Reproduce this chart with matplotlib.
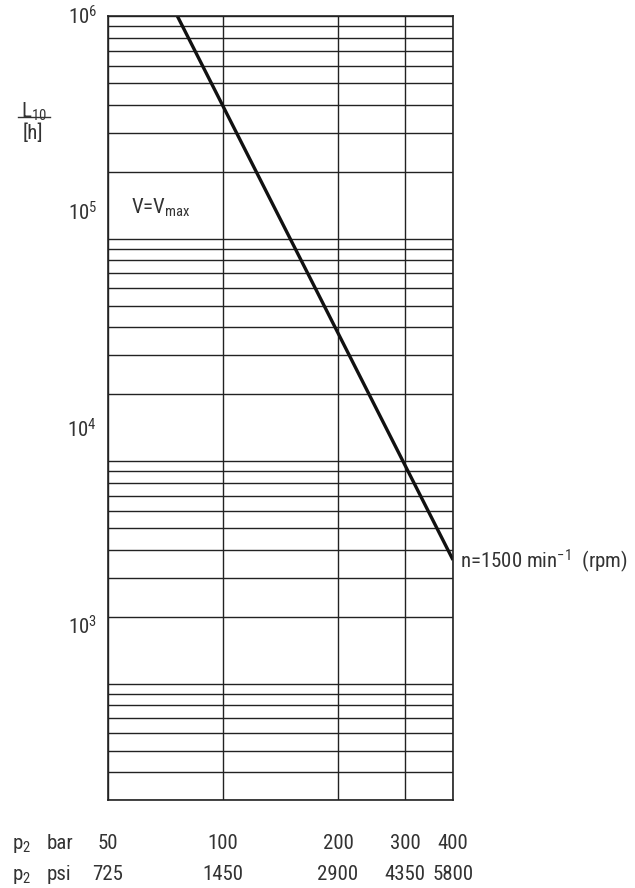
import matplotlib
matplotlib.use("Agg")
import matplotlib.pyplot as plt
from matplotlib import font_manager
from matplotlib.ticker import FixedLocator, NullLocator, LogLocator, NullFormatter
from matplotlib.transforms import blended_transform_factory
from matplotlib.lines import Line2D

# pressure axis (bar) and its psi equivalents
bar_ticks = [50, 100, 200, 300, 400]
psi_ticks = [725, 1450, 2900, 4350, 5800]

# bearing life line at n = 1500 rpm, read at its two ends
p_bar = [76, 400]
life_h = [1.0e6, 3.6e3]

# pick a narrow font if one is there
fam = "DejaVu Sans"
for cand in ["Liberation Sans Narrow", "Roboto Condensed", "Liberation Sans"]:
    try:
        font_manager.findfont(cand, fallback_to_default=False)
        fam = cand
        break
    except Exception:
        pass

plt.rcParams['font.family'] = [fam, 'DejaVu Sans']
plt.rcParams['mathtext.fontset'] = 'custom'
plt.rcParams['mathtext.rm'] = fam
plt.rcParams['mathtext.it'] = fam
plt.rcParams['mathtext.bf'] = fam

W, H = 635, 888
txt_col = '#333333'
grid_col = '#222222'
fs = 15


def px(x, y):
    return x / W, 1 - y / H


fig = plt.figure(figsize=(W / 100, H / 100), dpi=100)
ax = fig.add_axes([108 / W, 88 / H, 345 / W, (800 - 16.3) / H])
ax.set_xscale('log')
ax.set_yscale('log')
ax.set_xlim(bar_ticks[0], bar_ticks[-1])
ax.set_ylim(300, 1e6)

ax.xaxis.set_major_locator(FixedLocator(bar_ticks))
ax.xaxis.set_minor_locator(NullLocator())
ax.xaxis.set_major_formatter(NullFormatter())
ax.yaxis.set_major_locator(LogLocator(base=10))
ax.yaxis.set_minor_locator(LogLocator(base=10, subs=[2, 3, 4, 5, 6, 7, 8, 9]))
ax.yaxis.set_major_formatter(NullFormatter())
ax.yaxis.set_minor_formatter(NullFormatter())
ax.tick_params(which='both', length=0)
ax.grid(True, axis='y', which='both', color=grid_col, lw=1.0)
ax.grid(True, axis='x', which='major', color=grid_col, lw=1.0)
for s in ax.spines.values():
    s.set_color(grid_col)
    s.set_linewidth(1.2)

ax.plot(p_bar, life_h, color='#111111', lw=2.4, solid_capstyle='butt')

# x labels: two rows under the axis
tr = blended_transform_factory(ax.transData, fig.transFigure)
for b, p in zip(bar_ticks, psi_ticks):
    ax.text(b, 1 - 849 / H, str(b), transform=tr, ha='center', va='baseline',
            fontsize=fs, color=txt_col)
    ax.text(b, 1 - 880 / H, str(p), transform=tr, ha='center', va='baseline',
            fontsize=fs, color=txt_col)
for yb, unit in [(849, 'bar'), (880, 'psi')]:
    fig.text(*px(12, yb), r'p$_{\mathregular{2}}$', ha='left', va='baseline',
             fontsize=fs, color=txt_col)
    fig.text(*px(47, yb), unit, ha='left', va='baseline', fontsize=fs,
             color=txt_col)

# decade labels (placed as on the original sheet)
for ypx, e in [(17, 6), (213, 5), (430, 4), (627, 3)]:
    fig.text(*px(97, ypx), r'10$^{\mathregular{%d}}$' % e, ha='right',
             va='center', fontsize=fs, color=txt_col)

# L10 / [h]
fig.text(*px(34, 112), r'L$_{\mathregular{10}}$', ha='center', va='center',
         fontsize=fs, color=txt_col)
fig.lines.append(Line2D([18 / W, 50 / W], [1 - 117 / H, 1 - 117 / H],
                        transform=fig.transFigure, color=txt_col, lw=1.0))
fig.text(*px(33, 133), '[h]', ha='center', va='center', fontsize=fs,
         color=txt_col)

fig.text(*px(131, 208), r'V=V$_{\mathregular{max}}$', ha='left', va='center',
         fontsize=fs, color=txt_col)
fig.text(*px(460, 561), r'n=1500 min$^{\mathregular{-1}}$  (rpm)', ha='left',
         va='center', fontsize=fs, color=txt_col)

fig.savefig('out.png', dpi=100)
